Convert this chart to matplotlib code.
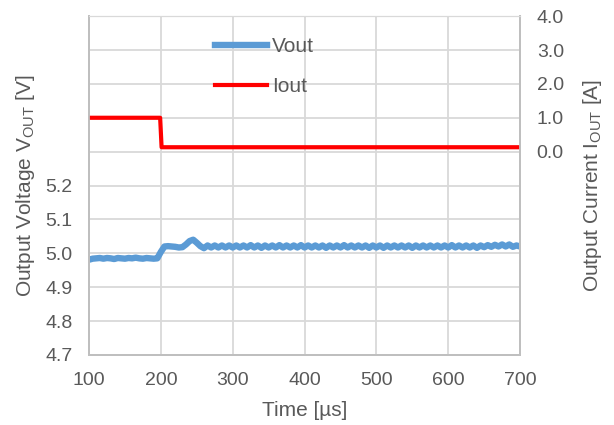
import numpy as np
import matplotlib.pyplot as plt

plt.rcParams['font.family'] = ['Liberation Sans', 'DejaVu Sans']

# Vout sampled every 5 us from 100 to 700 us
t_v = np.arange(100, 701, 5)
vout = [4.981, 4.984, 4.985, 4.986, 4.984, 4.986, 4.985, 4.983, 4.986, 4.985,
        4.984, 4.986, 4.985, 4.987, 4.985, 4.984, 4.986, 4.985, 4.984, 4.985,
        5.004, 5.020, 5.021, 5.020, 5.019, 5.017, 5.018, 5.026, 5.036, 5.040,
        5.031, 5.021, 5.015, 5.023, 5.017, 5.023, 5.017, 5.023, 5.017, 5.023,
        5.017, 5.023, 5.017, 5.023, 5.017, 5.024, 5.017, 5.023, 5.016, 5.023,
        5.017, 5.023, 5.017, 5.024, 5.017, 5.023, 5.017, 5.023, 5.017, 5.024,
        5.017, 5.023, 5.017, 5.023, 5.017, 5.023, 5.016, 5.023, 5.017, 5.023,
        5.017, 5.024, 5.017, 5.023, 5.017, 5.023, 5.017, 5.023, 5.016, 5.023,
        5.017, 5.023, 5.016, 5.023, 5.017, 5.023, 5.017, 5.023, 5.017, 5.023,
        5.016, 5.023, 5.017, 5.023, 5.017, 5.023, 5.017, 5.023, 5.017, 5.023,
        5.017, 5.024, 5.017, 5.023, 5.017, 5.023, 5.017, 5.023, 5.016, 5.023,
        5.018, 5.024, 5.019, 5.025, 5.020, 5.026, 5.020, 5.026, 5.019, 5.023,
        5.020]

t_i = [100, 199, 201, 700]
iout = [1.0, 1.0, 0.13, 0.13]

grey = '#595959'
grid_c = '#d9d9d9'
fs = 15

fig = plt.figure(figsize=(6.14, 4.25), dpi=100)
ax = fig.add_axes([0.145, 0.165, 0.702, 0.797])
ax2 = ax.twinx()

l1, = ax.plot(t_v, vout, color='#5B9BD5', lw=4.6, label='Vout', solid_joinstyle='round')
l2, = ax2.plot(t_i, iout, color='#FF0000', lw=3.0, label='Iout')

ax.set_xlim(100, 700)
ax.set_ylim(4.7, 5.7)
ax2.set_ylim(-6, 4)

ax.set_xticks(np.arange(100, 701, 100))
yt = np.round(np.arange(4.7, 5.71, 0.1), 1)
ax.set_yticks(yt)
ax.set_yticklabels([f'{v:.1f}' if v <= 5.2 else '' for v in yt])
y2t = np.arange(-6, 5, 1)
ax2.set_yticks(y2t)
ax2.set_yticklabels([f'{v:.1f}' if v >= 0 else '' for v in y2t])

ax.grid(True, color=grid_c, lw=1.3)
ax.set_axisbelow(True)
for a in (ax, ax2):
    a.tick_params(length=0, labelsize=fs - 1, colors=grey, pad=12)
    for s in ['left', 'right', 'bottom']:
        a.spines[s].set_color('#bfbfbf')
        a.spines[s].set_linewidth(1.3)
    a.spines['top'].set_color(grid_c)

ax.set_xlabel('Time [µs]', fontsize=fs, color=grey, labelpad=9)
ax.set_ylabel('Output Voltage V$_{\\mathregular{OUT}}$ [V]', fontsize=fs, color=grey, labelpad=6)
ax2.set_ylabel('Output Current I$_{\\mathregular{OUT}}$ [A]', fontsize=fs, color=grey, labelpad=12)

leg = ax2.legend(handles=[l1, l2], loc='upper left', bbox_to_anchor=(0.292, 0.937),
                 frameon=False, fontsize=fs, handlelength=2.5, handletextpad=0.25,
                 labelspacing=1.0, borderpad=0, borderaxespad=0)
for txt in leg.get_texts():
    txt.set_color(grey)

fig.savefig('out.png', dpi=100)
